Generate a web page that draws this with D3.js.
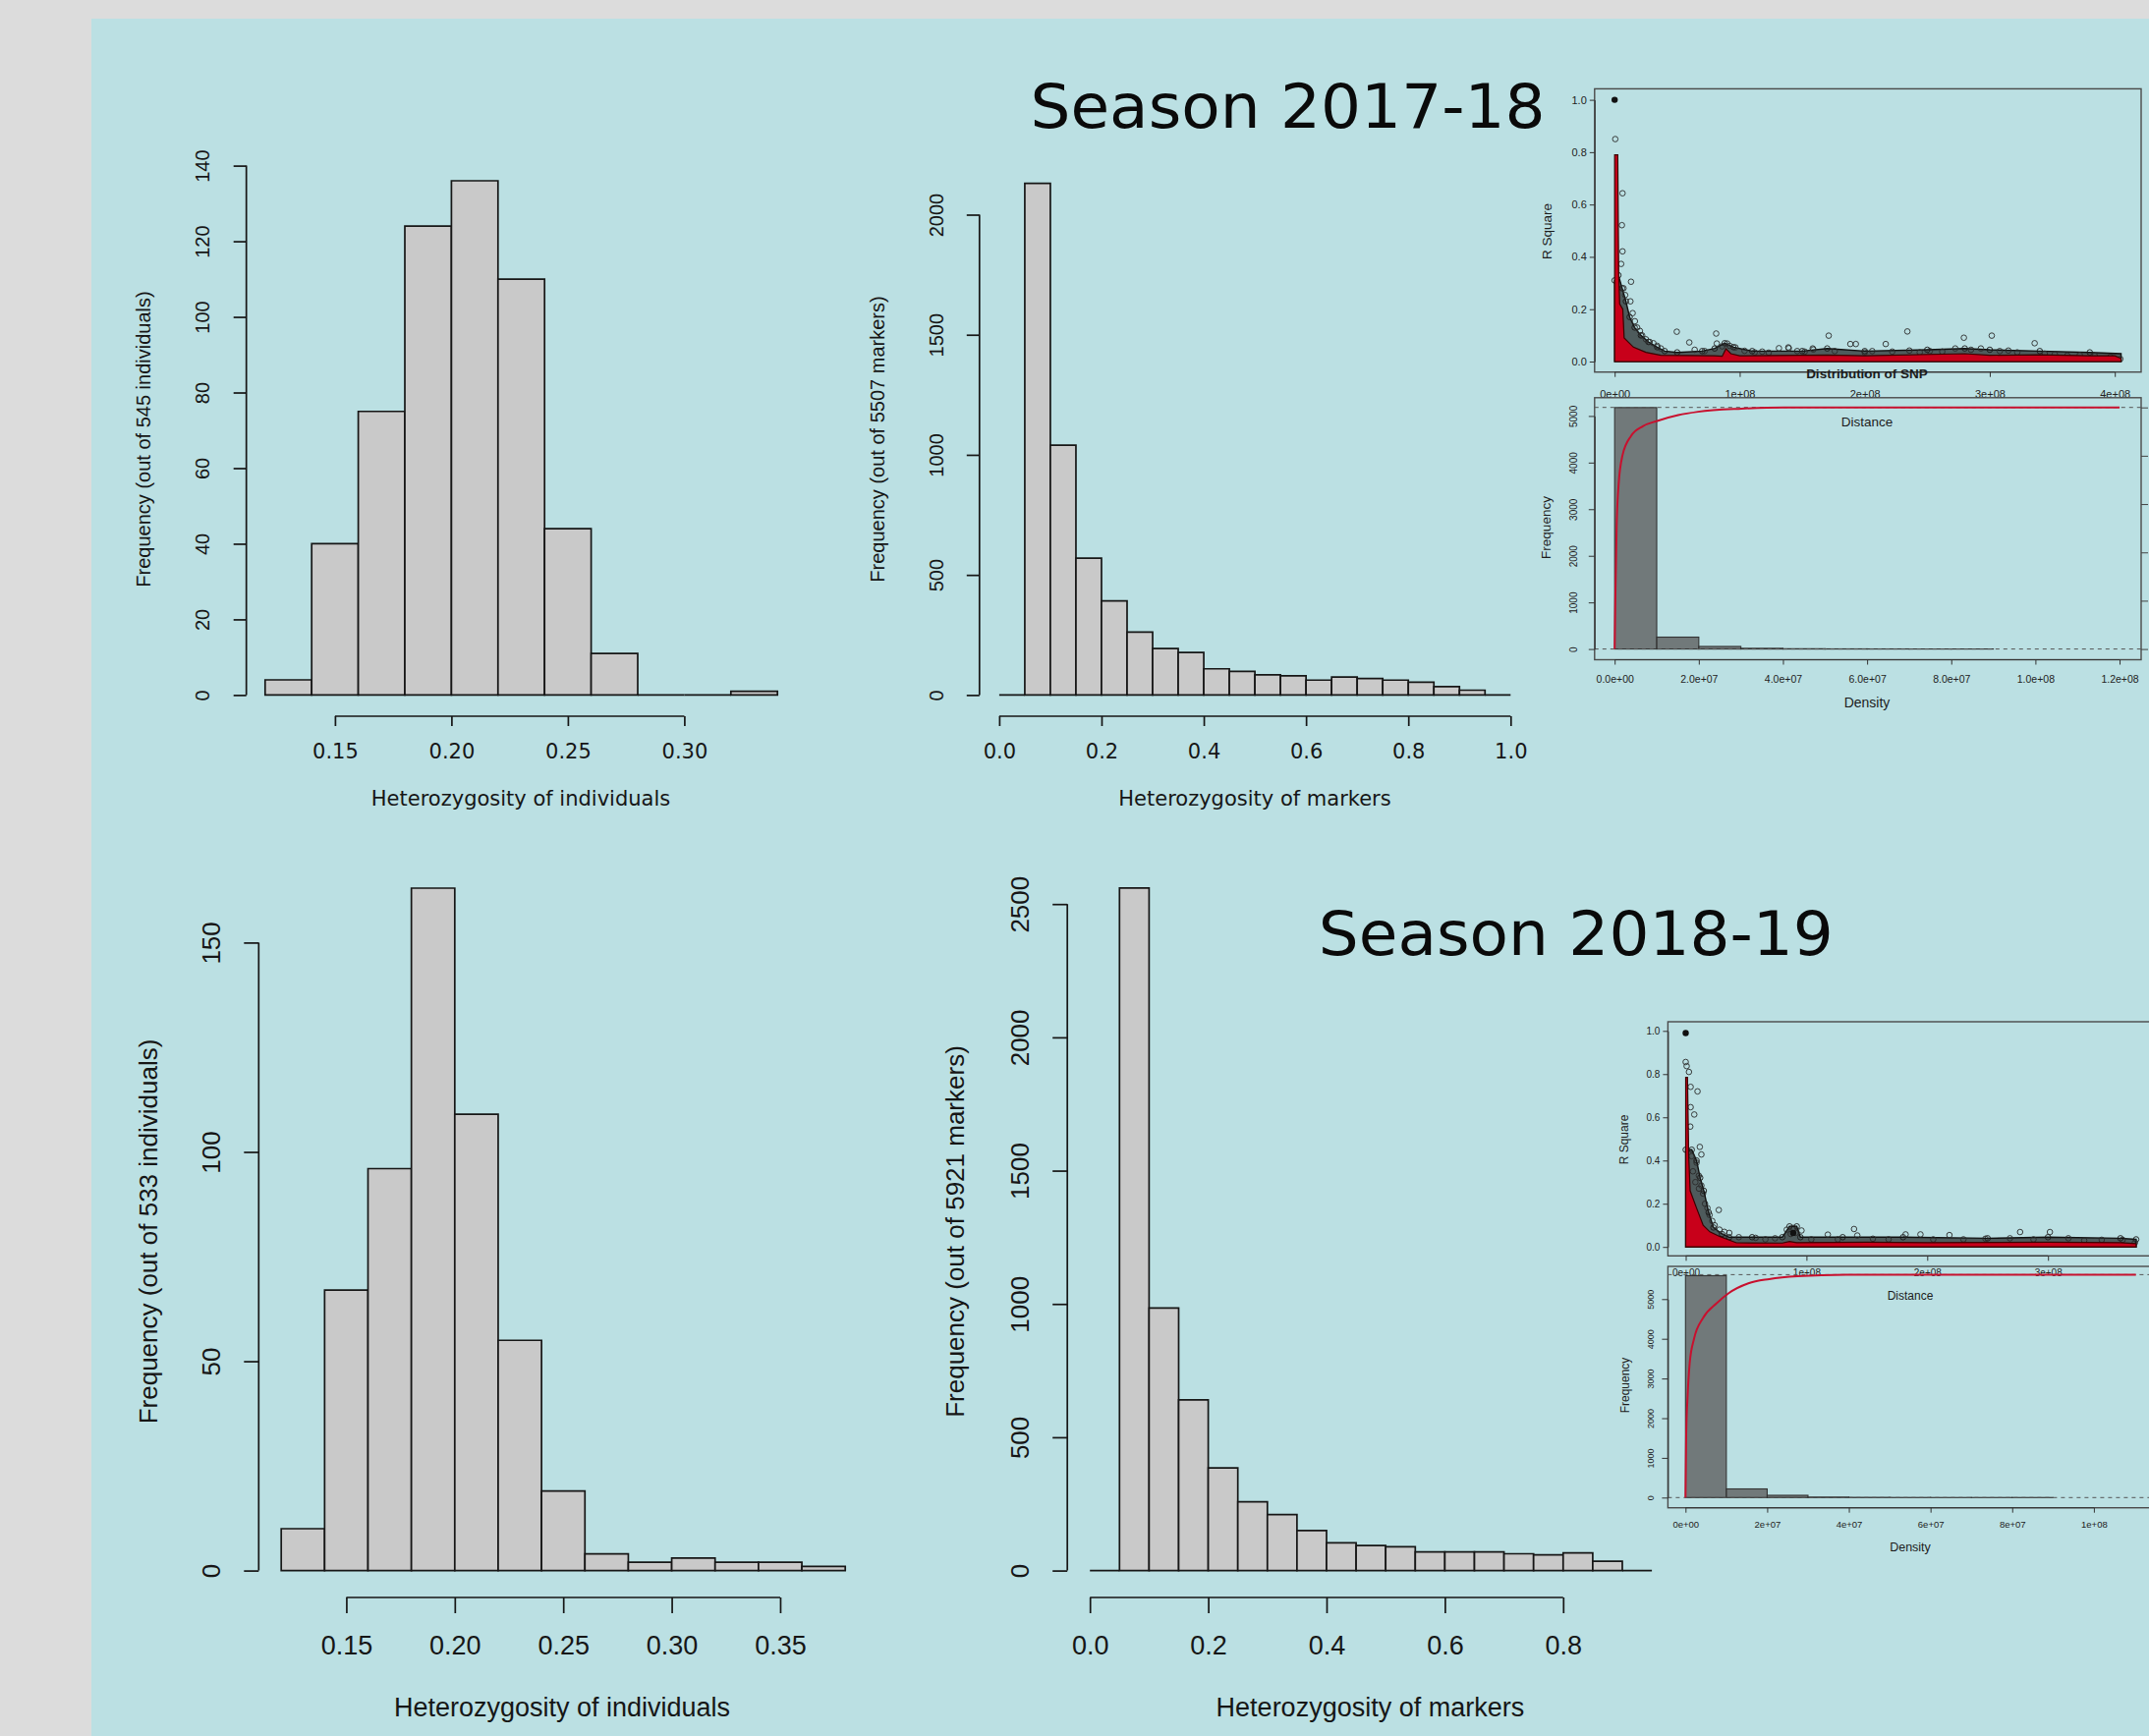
<!DOCTYPE html>
<html>
<head>
<meta charset="utf-8">
<script src="https://cdn.jsdelivr.net/npm/d3@7"></script>
<style>
  body { margin: 0; background: #dcdcdc; }
  svg { display: block; }
</style>
</head>
<body>
<div id="chart"></div>
<script>
// ---- heterozygosity histograms ----
const indivBreaks1718 = [0.12, 0.14, 0.16, 0.18, 0.20, 0.22, 0.24, 0.26, 0.28, 0.30, 0.32, 0.34];
const indivCounts1718 = [4, 40, 75, 124, 136, 110, 44, 11, 0, 0, 1];
const indivTicks1718 = [0.15, 0.20, 0.25, 0.30];
const indivFreqTicks1718 = [0, 20, 40, 60, 80, 100, 120, 140];

const markerBreaks1718 = [0, 0.05, 0.10, 0.15, 0.20, 0.25, 0.30, 0.35, 0.40, 0.45, 0.50,
                          0.55, 0.60, 0.65, 0.70, 0.75, 0.80, 0.85, 0.90, 0.95, 1.0];
const markerCounts1718 = [0, 2130, 1040, 570, 392, 262, 193, 177, 109, 98, 84, 80, 62, 75, 69, 62, 53, 35, 20, 0];
const markerTicks1718 = [0, 0.2, 0.4, 0.6, 0.8, 1.0];
const markerFreqTicks1718 = [0, 500, 1000, 1500, 2000];

const indivBreaks1819 = [0.12, 0.14, 0.16, 0.18, 0.20, 0.22, 0.24, 0.26, 0.28, 0.30, 0.32, 0.34, 0.36, 0.38];
const indivCounts1819 = [10, 67, 96, 163, 109, 55, 19, 4, 2, 3, 2, 2, 1];
const indivTicks1819 = [0.15, 0.20, 0.25, 0.30, 0.35];
const indivFreqTicks1819 = [0, 50, 100, 150];

const markerBreaks1819 = [0, 0.05, 0.10, 0.15, 0.20, 0.25, 0.30, 0.35, 0.40, 0.45, 0.50,
                          0.55, 0.60, 0.65, 0.70, 0.75, 0.80, 0.85, 0.90, 0.95];
const markerCounts1819 = [0, 2560, 985, 640, 385, 258, 210, 150, 104, 94, 89, 70, 70, 70, 63, 59, 66, 35, 0];
const markerTicks1819 = [0, 0.2, 0.4, 0.6, 0.8];
const markerFreqTicks1819 = [0, 500, 1000, 1500, 2000, 2500];

// ---- LD decay insets (distance in Mb, r^2) ----
const ldRed1718 = [[0,0],[0,0.79],[2.5,0.79],[3.2,0.35],[4,0.22],[6.5,0.2],[7.6,0.09],[15,0.055],[25,0.035],
  [37,0.024],[80,0.022],[86,0.02],[89,0.049],[93,0.03],[100,0.022],[170,0.025],[200,0.022],[280,0.03],
  [300,0.024],[340,0.026],[380,0.022],[400,0.022],[405,0.012],[405,0]];
const ldCloud1718 = [[0,0],[0,0.31],[3,0.33],[6,0.28],[9,0.23],[12,0.17],[16,0.13],[21,0.1],[27,0.075],
  [34,0.055],[40,0.04],[50,0.035],[70,0.04],[80,0.05],[88,0.07],[95,0.055],[110,0.04],[150,0.04],[170,0.05],
  [200,0.04],[250,0.045],[280,0.05],[300,0.045],[340,0.04],[380,0.035],[405,0.03],[405,0]];
const ldPoints1718 = [[0.5,0.85],[6.3,0.643],[5.8,0.521],[6.3,0.421],[5.2,0.373],[13.1,0.305],[7.1,0.28],
  [8.4,0.254],[12.6,0.23],[14.4,0.185],[16.2,0.154],[20.2,0.117],[18,0.13],[22,0.1],[25,0.085],[28,0.075],
  [31,0.07],[34,0.06],[37,0.05],[49.7,0.114],[59.7,0.073],[64,0.045],[72,0.04],[81.2,0.107],[81.7,0.069],
  [86,0.058],[90,0.069],[92,0.06],[96.6,0.054],[103.9,0.041],[112,0.035],[118,0.038],[123.2,0.034],
  [131.4,0.051],[138.9,0.054],[139.3,0.051],[146,0.04],[152,0.038],[158.4,0.05],[158.9,0.046],[171.2,0.099],
  [176,0.04],[188.5,0.067],[192.9,0.067],[200,0.035],[206,0.04],[216.8,0.067],[222,0.038],[234.1,0.115],
  [235.7,0.042],[244,0.035],[252,0.04],[262,0.038],[272.4,0.05],[279.3,0.091],[285,0.045],[292.9,0.05],
  [301.6,0.099],[308,0.04],[314.9,0.042],[322,0.035],[335.9,0.07],[344,0.03],[352,0.028],[362,0.023],
  [372,0.025],[384,0.022],[396.5,0.018],[404.4,0.01]];
const ldSolid1718 = [[0,1.0]];

const ldRed1819 = [[0,0],[0,0.785],[1.5,0.785],[2.5,0.42],[3.7,0.26],[9,0.18],[14.5,0.1],[20,0.07],[28,0.049],
  [42,0.019],[80,0.018],[86,0.025],[92,0.02],[150,0.022],[200,0.02],[300,0.022],[360,0.02],[373,0.015],[373,0]];
const ldCloud1819 = [[0,0],[0,0.45],[5,0.45],[9,0.4],[12,0.32],[15,0.26],[19,0.16],[23,0.09],[30,0.06],
  [36,0.045],[55,0.045],[80,0.045],[86,0.095],[92,0.095],[95,0.045],[130,0.045],[180,0.045],[250,0.04],
  [300,0.045],[360,0.04],[373,0.035],[373,0]];
const ldPoints1819 = [[0,0.856],[0.8,0.837],[2.7,0.81],[4.1,0.741],[9.8,0.72],[4.1,0.647],[7.1,0.613],
  [3.8,0.557],[11.7,0.463],[13,0.428],[4.9,0.42],[9,0.39],[10.9,0.33],[13,0.284],[14.4,0.247],[6,0.35],
  [8,0.3],[11,0.27],[16,0.2],[18,0.18],[27.4,0.171],[19.8,0.148],[22,0.12],[24,0.1],[28,0.08],[32,0.07],
  [36.1,0.065],[44,0.045],[57.9,0.042],[66,0.035],[74,0.04],[83.7,0.08],[89.1,0.088],[95.9,0.076],[87,0.06],
  [91,0.065],[104,0.035],[117.7,0.057],[126,0.035],[139.4,0.083],[142.1,0.053],[155,0.038],[168,0.035],
  [182.1,0.058],[194.4,0.058],[205,0.035],[218.4,0.055],[230,0.035],[248.2,0.038],[268.5,0.04],[276.9,0.069],
  [288,0.035],[301.6,0.069],[316.9,0.04],[330,0.03],[344.5,0.033],[361.8,0.033],[372,0.02]];
const ldSolid1819 = [[0,0.99],[89,0.065]];

// distance histogram, counts per 10 Mb bin, plus cumulative density (Mb, fraction)
const distCounts1718 = [5180, 255, 55, 15, 6, 3, 2, 1, 1, 0, 0, 0];
const distCdf1718 = [[0,0],[0.19,0.238],[0.47,0.503],[0.93,0.679],[1.87,0.802],[3.9,0.882],[6.7,0.922],
  [10.1,0.944],[15.1,0.968],[19.8,0.982],[30.1,0.995],[40.3,1.0],[120,1.0]];
const distCounts1819 = [5590, 218, 57, 12, 5, 2, 1, 1, 1, 0, 0];
const distCdf1819 = [[0,0],[0.17,0.283],[0.51,0.452],[1.03,0.604],[2.1,0.713],[4.3,0.806],[7.7,0.873],
  [10.5,0.916],[15.4,0.961],[20.5,0.98],[27.4,0.993],[39.3,1.0],[110.3,1.0]];

const ldTicks = [0, 100, 200, 300, 400];
const ldTickLabels = ["0e+00", "1e+08", "2e+08", "3e+08", "4e+08"];
const rsqTicks = [0, 0.2, 0.4, 0.6, 0.8, 1.0];
const distFreqTicks = [0, 1000, 2000, 3000, 4000, 5000];
const distTicks1718 = [0, 20, 40, 60, 80, 100, 120];
const distTickLabels1718 = ["0.0e+00", "2.0e+07", "4.0e+07", "6.0e+07", "8.0e+07", "1.0e+08", "1.2e+08"];
const distTicks1819 = [0, 20, 40, 60, 80, 100];
const distTickLabels1819 = ["0e+00", "2e+07", "4e+07", "6e+07", "8e+07", "1e+08"];

const W = 2187, H = 1767;
const INK = "#161616";
const SANS = "'Liberation Sans', Arial, sans-serif";
const WIDE = "'DejaVu Sans', Verdana, sans-serif";

const svg = d3.select("#chart").append("svg")
  .attr("width", W).attr("height", H);

svg.append("rect").attr("width", W).attr("height", H).attr("fill", "#dcdcdc");
svg.append("rect").attr("x", 93).attr("y", 19)
  .attr("width", W - 93).attr("height", H - 19).attr("fill", "#bbe0e3");

// rotate the labels of a left axis so they run along the axis (R style)
function rotateLabels(axisG, offset) {
  axisG.selectAll(".tick text")
    .attr("transform", "rotate(-90)")
    .attr("text-anchor", "middle")
    .attr("x", 0).attr("y", -offset).attr("dy", "0.35em");
}

function histogram(p) {
  const x = d3.scaleLinear().domain(p.xDomain).range(p.xRange);
  const y = d3.scaleLinear().domain(p.yDomain).range(p.yRange);
  const g = svg.append("g");
  const bins = p.counts.map((n, i) => ({ x0: p.breaks[i], x1: p.breaks[i + 1], n: n }));

  g.selectAll("path.bar")
    .data(bins)
    .enter().append("path")
    .attr("class", "bar")
    .attr("d", d => `M${x(d.x0)},${y(0)}V${y(d.n)}H${x(d.x1)}V${y(0)}Z`)
    .attr("fill", "#c9c9c9")
    .attr("stroke", INK)
    .attr("stroke-width", 1.7);

  const xt = p.xTicks, yt = p.yTicks;
  const xa = g.append("g")
    .attr("transform", "translate(0," + p.xAxisY + ")")
    .call(d3.axisBottom(x).tickValues(xt).tickFormat(d3.format(p.xFmt)).tickSize(p.xTickLen).tickSizeOuter(0));
  xa.select(".domain").attr("d", `M${x(xt[0])},0H${x(xt[xt.length - 1])}`);
  xa.attr("color", INK).attr("font-family", p.xFont).attr("font-size", p.xFontSize);
  xa.selectAll("line, path").attr("stroke-width", 1.7);
  xa.selectAll(".tick text").attr("fill", INK).attr("y", p.xLabelOff).attr("dy", "0.35em");

  const ya = g.append("g")
    .attr("transform", "translate(" + p.yAxisX + ",0)")
    .call(d3.axisLeft(y).tickValues(yt).tickFormat(d3.format("d")).tickSize(p.yTickLen).tickSizeOuter(0));
  ya.select(".domain").attr("d", `M0,${y(yt[0])}V${y(yt[yt.length - 1])}`);
  ya.attr("color", INK).attr("font-family", SANS).attr("font-size", p.yFontSize);
  ya.selectAll("line, path").attr("stroke-width", 1.7);
  ya.selectAll(".tick text").attr("fill", INK);
  rotateLabels(ya, p.yLabelOff);

  g.append("text")
    .attr("x", p.xTitle[0]).attr("y", p.xTitle[1])
    .attr("dy", "0.35em")
    .attr("text-anchor", "middle")
    .attr("font-family", p.xFont).attr("font-size", p.xTitleSize)
    .attr("fill", INK)
    .text(p.xLabel);

  g.append("text")
    .attr("transform", `translate(${p.yTitle[0]},${p.yTitle[1]}) rotate(-90)`)
    .attr("dy", "0.35em")
    .attr("text-anchor", "middle")
    .attr("font-family", SANS).attr("font-size", p.yTitleSize)
    .attr("fill", INK)
    .text(p.yLabel);
}

histogram({
  breaks: indivBreaks1718, counts: indivCounts1718,
  xDomain: [0.12, 0.34], xRange: [269.8, 791.2],
  yDomain: [0, 140], yRange: [707.4, 168.6],
  xTicks: indivTicks1718, yTicks: indivFreqTicks1718, xFmt: ".2f",
  xAxisY: 729, yAxisX: 250.7, xTickLen: 10, yTickLen: 13,
  xFont: WIDE, xFontSize: 21, xLabelOff: 36, yFontSize: 20, yLabelOff: 45,
  xTitle: [530, 813], xTitleSize: 21, xLabel: "Heterozygosity of individuals",
  yTitle: [145.5, 447], yTitleSize: 20, yLabel: "Frequency (out of 545 individuals)"
});

histogram({
  breaks: markerBreaks1718, counts: markerCounts1718,
  xDomain: [0, 1], xRange: [1016.9, 1537.3],
  yDomain: [0, 2000], yRange: [707.4, 218.5],
  xTicks: markerTicks1718, yTicks: markerFreqTicks1718, xFmt: ".1f",
  xAxisY: 729, yAxisX: 996.8, xTickLen: 10, yTickLen: 13,
  xFont: WIDE, xFontSize: 21, xLabelOff: 36, yFontSize: 20, yLabelOff: 44,
  xTitle: [1277, 813], xTitleSize: 21, xLabel: "Heterozygosity of markers",
  yTitle: [893, 447], yTitleSize: 20, yLabel: "Frequency (out of 5507 markers)"
});

histogram({
  breaks: indivBreaks1819, counts: indivCounts1819,
  xDomain: [0.12, 0.38], xRange: [286.2, 860.2],
  yDomain: [0, 150], yRange: [1598.6, 959.4],
  xTicks: indivTicks1819, yTicks: indivFreqTicks1819, xFmt: ".2f",
  xAxisY: 1626, yAxisX: 263.3, xTickLen: 16, yTickLen: 15,
  xFont: SANS, xFontSize: 27, xLabelOff: 48.6, yFontSize: 26, yLabelOff: 48.5,
  xTitle: [572, 1737.8], xTitleSize: 27, xLabel: "Heterozygosity of individuals",
  yTitle: [151, 1253.5], yTitleSize: 26, yLabel: "Frequency (out of 533 individuals)"
});

histogram({
  breaks: markerBreaks1819, counts: markerCounts1819,
  xDomain: [0, 0.8], xRange: [1109.2, 1590.8],
  yDomain: [0, 2500], yRange: [1598.6, 920.2],
  xTicks: markerTicks1819, yTicks: markerFreqTicks1819, xFmt: ".1f",
  xAxisY: 1626, yAxisX: 1086.2, xTickLen: 16, yTickLen: 15,
  xFont: SANS, xFontSize: 27, xLabelOff: 48.6, yFontSize: 26, yLabelOff: 48.4,
  xTitle: [1394.4, 1737.8], xTitleSize: 27, xLabel: "Heterozygosity of markers",
  yTitle: [971.4, 1253.5], yTitleSize: 26, yLabel: "Frequency (out of 5921 markers)"
});

// ---- LD inset: r^2 scatter on top, distance histogram with cumulative curve below ----
function smallText(g, x, y, txt, size, opts) {
  opts = opts || {};
  const t = g.append("text")
    .attr("transform", opts.rotate ? `translate(${x},${y}) rotate(-90)` : null)
    .attr("x", opts.rotate ? 0 : x).attr("y", opts.rotate ? 0 : y)
    .attr("dy", "0.35em")
    .attr("text-anchor", "middle")
    .attr("font-family", SANS).attr("font-size", size)
    .attr("font-weight", opts.bold ? "bold" : null)
    .attr("fill", "#1c1c1c")
    .text(txt);
  return t;
}

function ldInset(p) {
  const g = svg.append("g");
  const xs = d3.scaleLinear().domain([0, 100]).range([p.sx0, p.sx0 + p.sPer100]);
  const ys = d3.scaleLinear().domain([0, 1]).range(p.sY);
  const sb = p.sBox;

  g.append("rect").attr("x", sb[0]).attr("y", sb[1])
    .attr("width", sb[2] - sb[0]).attr("height", sb[3] - sb[1])
    .attr("fill", "none").attr("stroke", "#4a4a4a").attr("stroke-width", 1.4);

  const line = d3.line().x(d => xs(d[0])).y(d => ys(d[1]));
  g.append("path").attr("d", line(p.cloud) + "Z")
    .attr("fill", "#161616").attr("fill-opacity", 0.66)
    .attr("stroke", "#111").attr("stroke-width", 1.4);

  g.selectAll("circle.env")
    .data(p.cloud.filter(d => d[1] > 0.03))
    .enter().append("circle").attr("class", "env")
    .attr("cx", d => xs(d[0])).attr("cy", d => ys(d[1])).attr("r", 2.8)
    .attr("fill", "none").attr("stroke", "#1a1a1a").attr("stroke-width", 0.9);

  g.selectAll("circle.pt")
    .data(p.points)
    .enter().append("circle").attr("class", "pt")
    .attr("cx", d => xs(d[0])).attr("cy", d => ys(d[1])).attr("r", 2.8)
    .attr("fill", "none").attr("stroke", "#2a2a2a").attr("stroke-width", 0.9);

  g.append("path").attr("d", line(p.red) + "Z")
    .attr("fill", "#c8001a").attr("stroke", "#3a0000").attr("stroke-width", 1.2);

  g.selectAll("circle.solid")
    .data(p.solid)
    .enter().append("circle").attr("class", "solid")
    .attr("cx", d => xs(d[0])).attr("cy", d => ys(d[1])).attr("r", 3.2)
    .attr("fill", "#111");

  const sya = g.append("g").attr("transform", "translate(" + sb[0] + ",0)")
    .call(d3.axisLeft(ys).tickValues(rsqTicks).tickFormat(d3.format(".1f")).tickSize(5).tickSizeOuter(0));
  sya.attr("color", "#333").attr("font-family", SANS).attr("font-size", p.tickFont);
  sya.selectAll(".tick text").attr("fill", "#222").attr("x", -8);

  const sxa = g.append("g").attr("transform", "translate(0," + sb[3] + ")")
    .call(d3.axisBottom(xs).tickValues(p.sTicks).tickFormat((d, i) => ldTickLabels[i]).tickSize(5).tickSizeOuter(0));
  sxa.select(".domain").attr("d", `M${xs(p.sTicks[0])},0H${xs(p.sTicks[p.sTicks.length - 1])}`);
  sxa.attr("color", "#333").attr("font-family", SANS).attr("font-size", p.tickFont);
  sxa.selectAll(".tick text").attr("fill", "#222").attr("y", p.sLabelOff).attr("dy", "0.35em");

  smallText(g, p.rsqLabel[0], p.rsqLabel[1], "R Square", p.titleFont, { rotate: true });
  if (p.snpLabel) smallText(g, p.snpLabel[0], p.snpLabel[1], "Distribution of SNP", 13.5, { bold: true });

  // histogram of pair distances
  const hb = p.hBox;
  const xh = d3.scaleLinear().domain([0, 100]).range([p.hx0, p.hx0 + p.hPer100]);
  const yh = d3.scaleLinear().domain([0, 5000]).range(p.hY);
  const yd = d3.scaleLinear().domain([0, 1]).range([p.hY[0], p.hTop]);

  g.append("rect").attr("x", hb[0]).attr("y", hb[1])
    .attr("width", hb[2] - hb[0]).attr("height", hb[3] - hb[1])
    .attr("fill", "none").attr("stroke", "#4a4a4a").attr("stroke-width", 1.4);

  g.selectAll("rect.dbar")
    .data(p.counts)
    .enter().append("rect").attr("class", "dbar")
    .attr("x", (d, i) => xh(i * 10))
    .attr("y", d => yh(d))
    .attr("width", xh(10) - xh(0))
    .attr("height", d => yh(0) - yh(d))
    .attr("fill", "#5c5c5c").attr("fill-opacity", 0.78)
    .attr("stroke", "#333").attr("stroke-width", 1.1);

  [0, 1].forEach(v => {
    g.append("line")
      .attr("x1", hb[0]).attr("x2", Math.min(hb[2], W))
      .attr("y1", yd(v)).attr("y2", yd(v))
      .attr("stroke", "#555").attr("stroke-width", 1).attr("stroke-dasharray", "4,4");
  });

  g.append("path")
    .attr("d", d3.line().x(d => xh(d[0])).y(d => yd(d[1])).curve(d3.curveMonotoneX)(p.cdf))
    .attr("fill", "none").attr("stroke", "#c8102e").attr("stroke-width", 2);

  const hya = g.append("g").attr("transform", "translate(" + hb[0] + ",0)")
    .call(d3.axisLeft(yh).tickValues(distFreqTicks).tickFormat(d3.format("d")).tickSize(6).tickSizeOuter(0));
  hya.attr("color", "#333").attr("font-family", SANS).attr("font-size", p.tickFont - 1);
  hya.selectAll(".tick text").attr("fill", "#222");
  rotateLabels(hya, p.hLabelOff);

  if (p.rightAxis) {
    const hra = g.append("g").attr("transform", "translate(" + hb[2] + ",0)")
      .call(d3.axisRight(yd).tickValues(rsqTicks).tickFormat("").tickSize(7).tickSizeOuter(0));
    hra.attr("color", "#444");
    hra.select(".domain").remove();
  }

  const hxa = g.append("g").attr("transform", "translate(0," + hb[3] + ")")
    .call(d3.axisBottom(xh).tickValues(p.hTicks).tickFormat((d, i) => p.hTickLabels[i]).tickSize(5).tickSizeOuter(0));
  hxa.select(".domain").attr("d", `M${xh(p.hTicks[0])},0H${xh(p.hTicks[p.hTicks.length - 1])}`);
  hxa.attr("color", "#333").attr("font-family", SANS).attr("font-size", p.tickFont - 0.5);
  hxa.selectAll(".tick text").attr("fill", "#222").attr("y", p.hLabelY - hb[3]).attr("dy", "0.35em");

  smallText(g, p.freqLabel[0], p.freqLabel[1], "Frequency", p.titleFont, { rotate: true });
  smallText(g, p.distLabel[0], p.distLabel[1], "Distance", p.titleFont);
  smallText(g, p.densLabel[0], p.densLabel[1], "Density", p.titleFont + 0.5);
}

ldInset({
  red: ldRed1718, cloud: ldCloud1718, points: ldPoints1718, solid: ldSolid1718,
  sBox: [1622.8, 90.4, 2179, 378.7], sx0: 1643.2, sPer100: 127.25, sY: [368, 101.6],
  sTicks: ldTicks, sLabelOff: 22.5, tickFont: 11, titleFont: 13.5,
  rsqLabel: [1574, 235.6], snpLabel: [1900, 380],
  counts: distCounts1718, cdf: distCdf1718,
  hBox: [1622.8, 404.8, 2179, 671.5], hx0: 1643.2, hPer100: 428.2, hY: [660.6, 423.4], hTop: 414.7,
  hTicks: distTicks1718, hTickLabels: distTickLabels1718, hLabelY: 691, hLabelOff: 21,
  rightAxis: true,
  freqLabel: [1573, 537], distLabel: [1900, 429.5], densLabel: [1900, 714.8]
});

ldInset({
  red: ldRed1819, cloud: ldCloud1819, points: ldPoints1819, solid: ldSolid1819,
  sBox: [1697.4, 1040, 2200, 1278.3], sx0: 1715.5, sPer100: 122.9, sY: [1269.2, 1049.3],
  sTicks: [0, 100, 200, 300], sLabelOff: 17, tickFont: 10, titleFont: 12,
  rsqLabel: [1653, 1160], snpLabel: null,
  counts: distCounts1819, cdf: distCdf1819,
  hBox: [1697.4, 1289, 2200, 1534.7], hx0: 1715.3, hPer100: 415.6, hY: [1524.3, 1322.3], hTop: 1297.4,
  hTicks: distTicks1819, hTickLabels: distTickLabels1819, hLabelY: 1552, hLabelOff: 18,
  rightAxis: false,
  freqLabel: [1654, 1410], distLabel: [1944, 1319], densLabel: [1944, 1575]
});

// ---- season titles ----
svg.append("text")
  .attr("x", 1048.5).attr("y", 130)
  .attr("font-family", WIDE).attr("font-size", 63)
  .attr("textLength", 524).attr("lengthAdjust", "spacingAndGlyphs")
  .attr("fill", "#0a0a0a")
  .text("Season 2017-18");

svg.append("text")
  .attr("x", 1341.8).attr("y", 971.6)
  .attr("font-family", WIDE).attr("font-size", 63)
  .attr("textLength", 524).attr("lengthAdjust", "spacingAndGlyphs")
  .attr("fill", "#0a0a0a")
  .text("Season 2018-19");
</script>
</body>
</html>
